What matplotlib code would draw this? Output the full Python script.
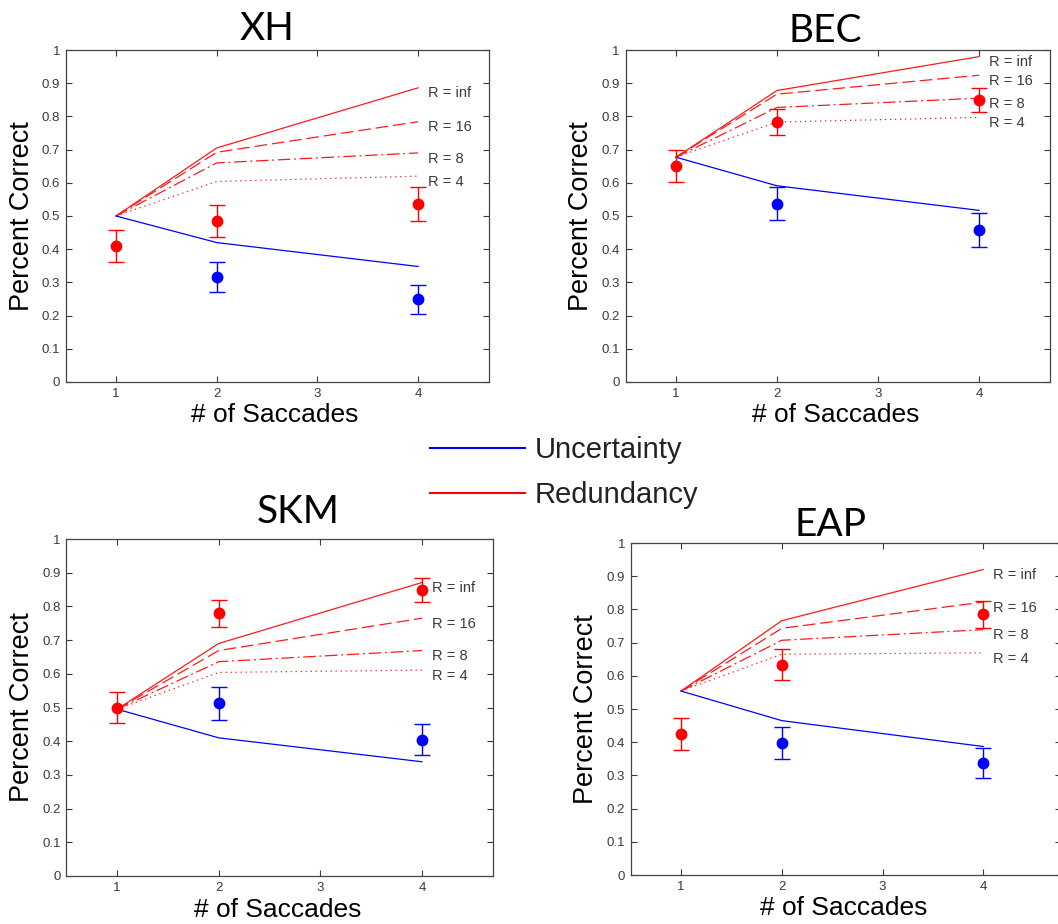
import matplotlib
matplotlib.use("Agg")
import matplotlib.pyplot as plt
from matplotlib.lines import Line2D

W, H = 1058, 924

saccades = [1, 2, 4]
saccades_unc = [2, 4]
r_labels = ["R = inf", "R = 16", "R = 8", "R = 4"]
y_ticks = [0, 0.1, 0.2, 0.3, 0.4, 0.5, 0.6, 0.7, 0.8, 0.9, 1]
y_tick_labels = ["0", "0.1", "0.2", "0.3", "0.4", "0.5", "0.6", "0.7", "0.8", "0.9", "1"]

# XH
xh_unc_model = [0.50, 0.42, 0.348]
xh_red_inf = [0.50, 0.705, 0.886]
xh_red_16 = [0.50, 0.692, 0.784]
xh_red_8 = [0.50, 0.660, 0.690]
xh_red_4 = [0.50, 0.604, 0.620]
xh_red_data = [0.410, 0.485, 0.536]
xh_red_err = [0.048, 0.049, 0.050]
xh_unc_data = [0.315, 0.249]
xh_unc_err = [0.045, 0.043]

# BEC
bec_unc_model = [0.677, 0.591, 0.517]
bec_red_inf = [0.677, 0.878, 0.980]
bec_red_16 = [0.677, 0.867, 0.924]
bec_red_8 = [0.677, 0.827, 0.855]
bec_red_4 = [0.677, 0.783, 0.797]
bec_red_data = [0.650, 0.784, 0.849]
bec_red_err = [0.048, 0.039, 0.036]
bec_unc_data = [0.537, 0.458]
bec_unc_err = [0.050, 0.050]

# SKM
skm_unc_model = [0.495, 0.410, 0.339]
skm_red_inf = [0.495, 0.690, 0.871]
skm_red_16 = [0.495, 0.669, 0.765]
skm_red_8 = [0.495, 0.636, 0.669]
skm_red_4 = [0.495, 0.604, 0.611]
skm_red_data = [0.500, 0.780, 0.848]
skm_red_err = [0.047, 0.040, 0.035]
skm_unc_data = [0.512, 0.405]
skm_unc_err = [0.050, 0.047]

# EAP
eap_unc_model = [0.554, 0.465, 0.387]
eap_red_inf = [0.554, 0.766, 0.920]
eap_red_16 = [0.554, 0.743, 0.822]
eap_red_8 = [0.554, 0.707, 0.739]
eap_red_4 = [0.554, 0.665, 0.669]
eap_red_data = [0.425, 0.634, 0.785]
eap_red_err = [0.048, 0.048, 0.040]
eap_unc_data = [0.397, 0.338]
eap_unc_err = [0.048, 0.046]

panels = [
    ("XH", xh_unc_model, [xh_red_inf, xh_red_16, xh_red_8, xh_red_4],
     xh_red_data, xh_red_err, xh_unc_data, xh_unc_err),
    ("BEC", bec_unc_model, [bec_red_inf, bec_red_16, bec_red_8, bec_red_4],
     bec_red_data, bec_red_err, bec_unc_data, bec_unc_err),
    ("SKM", skm_unc_model, [skm_red_inf, skm_red_16, skm_red_8, skm_red_4],
     skm_red_data, skm_red_err, skm_unc_data, skm_unc_err),
    ("EAP", eap_unc_model, [eap_red_inf, eap_red_16, eap_red_8, eap_red_4],
     eap_red_data, eap_red_err, eap_unc_data, eap_unc_err),
]

# layout in pixels: left, right, top, bottom, xmax, title x, title baseline
layout = [
    (65.7, 488.5, 50, 382, 4.7, 267, 40),
    (625.5, 1049.7, 50, 382, 4.7, 825, 42),
    (66.2, 493.2, 539, 876, 4.7, 298, 523),
    (630.7, 1060.8, 543, 875, 4.77, 830, 536),
]

dash_styles = ["-", (0, (10, 4)), (0, (10, 3, 1.5, 3)), (0, (1, 3))]
grey = "#3a3a3a"

fig = plt.figure(figsize=(W / 100, H / 100), dpi=100)

for (name, unc_model, red_models, red_data, red_err, unc_data, unc_err), \
        (l, r, t, b, xmax, tx, ty) in zip(panels, layout):
    ax = fig.add_axes([l / W, 1 - b / H, (r - l) / W, (b - t) / H])

    for model, ls in zip(red_models, dash_styles):
        ax.plot(saccades, model, color="#ff1a1a", lw=0.9, linestyle=ls)
    ax.plot(saccades, unc_model, color="#0000ff", lw=0.9)

    ax.errorbar(saccades, red_data, yerr=red_err, fmt="o", color="red",
                ms=7.5, elinewidth=1, capsize=5.5, capthick=1)
    ax.errorbar(saccades_unc, unc_data, yerr=unc_err, fmt="o", color="blue",
                ms=7.5, elinewidth=1, capsize=5.5, capthick=1)

    for model, lab in zip(red_models, r_labels):
        ax.text(4.1, model[-1] - 0.017, lab, fontsize=10.5, color=grey,
                family="Liberation Sans", va="center", ha="left")

    ax.set_xlim(0.5, xmax)
    ax.set_ylim(0, 1)
    ax.set_xticks([1, 2, 3, 4])
    ax.set_yticks(y_ticks)
    ax.set_yticklabels(y_tick_labels)
    ax.tick_params(direction="in", top=True, right=True, length=4, width=0.8,
                   labelsize=9.5, labelcolor=grey, color=grey, pad=4)
    for lbl in ax.get_xticklabels() + ax.get_yticklabels():
        lbl.set_family("Liberation Sans")
    for sp in ax.spines.values():
        sp.set_color("#444444")
        sp.set_linewidth(0.9)

    ax.set_ylabel("Percent Correct", fontsize=19.5, family="Liberation Sans",
                  va="center")
    ax.yaxis.set_label_coords(-0.104, 0.5)
    ax.set_xlabel("# of Saccades", fontsize=19, family="Liberation Sans",
                  va="center")
    ax.xaxis.set_label_coords(0.495, -0.10)

    fig.text(tx / W, 1 - ty / H, name, fontsize=28, family="Lato",
             ha="center", va="baseline")

# shared legend drawn on the figure
fig.add_artist(Line2D([430 / W, 525 / W], [1 - 448 / H, 1 - 448 / H],
                      color="#0000ff", lw=1.5))
fig.add_artist(Line2D([430 / W, 525 / W], [1 - 493 / H, 1 - 493 / H],
                      color="#ff0000", lw=1.5))
fig.text(535 / W, 1 - 450 / H, "Uncertainty", fontsize=21, color="#222222",
         family="Liberation Sans", va="center")
fig.text(535 / W, 1 - 495 / H, "Redundancy", fontsize=21, color="#222222",
         family="Liberation Sans", va="center")

fig.savefig("out.png", dpi=100)
